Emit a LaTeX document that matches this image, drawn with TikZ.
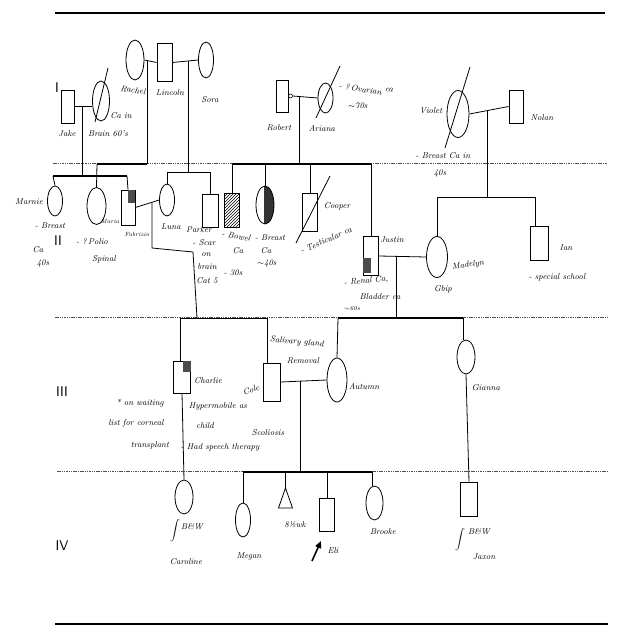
\documentclass[tikz,border=0pt]{standalone}
\usetikzlibrary{shapes.geometric,patterns,arrows.meta}
\begin{document}
\begin{tikzpicture}[x=1pt,y=-1pt,
  male/.style={draw,line width=0.8pt,rectangle,inner sep=0,minimum width=15pt,minimum height=34pt},
  female/.style={draw,line width=0.8pt,ellipse,inner sep=0,minimum width=17pt,minimum height=36pt},
  lbl/.style={font=\fontsize{8.5}{10}\selectfont\itshape,inner sep=0},
  tiny/.style={font=\fontsize{6}{7}\selectfont\itshape,inner sep=0},
  gennum/.style={font=\fontsize{14}{14}\selectfont\sffamily,inner sep=0},
  sepline/.style={line width=0.9pt,black!70,dash pattern=on 1.5pt off 0.8pt},
  edgerule/.style={line width=1.1pt},
  heavy/.style={line width=1.5pt},
  conn/.style={line width=0.8pt}
]
\useasboundingbox (0,0) rectangle (640,640);
\fill[white] (0,0) rectangle (640,640);

% ---------- generation rules ----------
\draw[edgerule] (55,13) -- (605,13);
\draw[sepline] (53,163) -- (607,163);
\draw[sepline] (55,317) -- (608,317);
\draw[sepline] (57,471) -- (608,471);
\draw[edgerule] (55,624) -- (608,624);

\node[gennum] (gI) at (57,88) {I};
\node[gennum] (gII) at (58,241) {II};
\node[gennum] (gIII) at (62,392) {III};
\node[gennum] (gIV) at (62,546) {IV};

% ---------- generation I ----------
\node[female,minimum width=18pt,minimum height=40pt] (rachel) at (135,60) {};
\node[male,minimum width=15pt,minimum height=38pt] (lincoln) at (164.5,62.5) {};
\node[female,minimum width=15pt,minimum height=36pt] (sora) at (206,60) {};
\node[male,minimum width=13pt,minimum height=33pt] (jake) at (67.5,106.5) {};
\node[female,minimum width=17pt,minimum height=40pt] (jw) at (101,101) {};
\node[male,minimum width=12pt,minimum height=32pt] (robert) at (282,96) {};
\node[circle,draw,line width=0.6pt,minimum size=4pt,inner sep=0] (rsc) at (290.5,96) {};
\node[female,minimum width=15pt,minimum height=30pt] (ariana) at (325.5,98) {};
\node[female,minimum width=22pt,minimum height=47pt] (violet) at (458,114) {};
\node[male,minimum width=14pt,minimum height=33pt] (nolan) at (516,106.5) {};

% deceased slashes
\draw[conn] ([shift={(-6,21)}]jw.center) -- ([shift={(7,-33)}]jw.center);
\draw[conn] ([shift={(-9.5,20)}]ariana.center) -- ([shift={(14.5,-32)}]ariana.center);
\draw[conn] ([shift={(-13,34)}]violet.center) -- ([shift={(12,-47)}]violet.center);

% ---------- generation II ----------
\node[female,minimum width=15pt,minimum height=30pt] (marnie) at (55,201) {};
\node[female,minimum width=19pt,minimum height=37pt] (maria) at (96.5,206) {};
\node[male,minimum width=14pt,minimum height=35pt] (fab) at (128,207.5) {};
\node[female,minimum width=15pt,minimum height=32pt] (luna) at (167,200) {};
\node[male,minimum width=16pt,minimum height=33pt] (parker) at (210,211) {};
\node[male,minimum width=15pt,minimum height=34pt,pattern=north east lines] (bowel) at (232,210) {};
\node[female,minimum width=18pt,minimum height=38pt,
  path picture={\fill[black!80] ([xshift=-1pt]path picture bounding box.north) rectangle (path picture bounding box.south east);}] (breast) at (265,205) {};
\node[male,minimum width=15pt,minimum height=38pt] (cooper) at (310,212) {};
\node[male,minimum width=15pt,minimum height=39pt] (justin) at (371,256) {};
\node[female,minimum width=21pt,minimum height=41pt] (madelyn) at (437,257) {};
\node[male,minimum width=18pt,minimum height=34pt] (ian) at (539,243) {};

\fill[black!70] (fab.north east) rectangle ([shift={(-7,13)}]fab.north east);
\fill[black!70] ([shift={(0,-3)}]justin.south west) rectangle ([shift={(8,-18)}]justin.south west);
\draw[conn] ([shift={(-14,31)}]cooper.center) -- ([shift={(20,-36)}]cooper.center);

% ---------- generation III ----------
\node[male,minimum width=17pt,minimum height=32pt] (charlie) at (182,377) {};
\fill[black!70] (charlie.north east) rectangle ([shift={(-8,11)}]charlie.north east);
\node[male,minimum width=17pt,minimum height=38pt] (cole) at (272,382) {};
\node[female,minimum width=20pt,minimum height=44pt] (autumn) at (337,380) {};
\node[female,minimum width=18pt,minimum height=34pt] (gianna) at (466,357) {};

% ---------- generation IV ----------
\node[female,minimum width=18pt,minimum height=34pt] (caroline) at (184,497) {};
\node[female,minimum width=15pt,minimum height=34pt] (megan) at (243,520) {};
\coordinate (tri) at (285.5,488);
\draw[conn] (tri) -- ++(-7,20) -- ++(14,0) -- cycle;
\node[male,minimum width=15pt,minimum height=33pt] (eli) at (327,515) {};
\node[female,minimum width=17pt,minimum height=34pt] (brooke) at (374.5,503) {};
\node[male,minimum width=17pt,minimum height=34pt] (jaxon) at (469,499) {};

% ---------- connectors: generation I ----------
\draw[conn] (rachel.east) -- (lincoln.west);
\coordinate (rlm) at (147,61);
\coordinate (rlb) at (147,164);
\coordinate (mk) at (97,164);
\draw[conn] (rlm) -- (rlb);
\draw[heavy] (mk) -- (rlb);
\draw[conn] (mk) -- (maria.north);

\draw[conn] (lincoln.east) -- (sora.west);
\coordinate (lsm) at (188,61.2);
\coordinate (lsb) at (188,172);
\coordinate (lpl) at (167,172);
\coordinate (lpr) at (210,172);
\draw[conn] (lsm) -- (lsb);
\draw[conn] (lpl) -- (lpr);
\draw[conn] (lpl) -- (luna.north);
\draw[conn] (lpr) -- (parker.north);

\draw[conn] (jake.east) -- (jake.east -| jw.west);
\coordinate (jm) at (82,106.5);
\coordinate (jmb) at (82,176);
\coordinate (sl) at (53,176);
\coordinate (sr) at (127,176);
\draw[conn] (jm) -- (jmb);
\draw[heavy] (sl) -- (sr);
\draw[conn] (sl) -- (marnie.north);
\draw[conn] (sr) -- (fab.north);

\draw[conn] (rsc.east) -- (ariana.west);
\coordinate (ram) at (299,96.5);
\coordinate (ramb) at (299,164);
\coordinate (bl) at (232,164);
\coordinate (bk) at (265,164);
\coordinate (ck) at (310,164);
\coordinate (br) at (371,164);
\draw[conn] (ram) -- (ramb);
\draw[heavy] (bl) -- (br);
\draw[conn] (bl) -- (bowel.north);
\draw[conn] (bk) -- (breast.north);
\draw[conn] (ck) -- (cooper.north);
\draw[conn] (br) -- (justin.north);

\draw[conn] (violet.east) -- (nolan.west);
\coordinate (vnm) at (487,110.5);
\coordinate (vnb) at (487,197);
\coordinate (vl) at (437,197);
\coordinate (vr) at (535,197);
\draw[conn] (vnm) -- (vnb);
\draw[conn] (vl) -- (vr);
\draw[conn] (vl) -- (madelyn.north);
\draw[conn] (vr) -- (vr |- ian.north);

% ---------- connectors: generation II ----------
\draw[conn] (fab.east) -- (luna.west);
\coordinate (flm) at (152,202.3);
\coordinate (fl1) at (152,248);
\coordinate (fl2) at (193,252);
\coordinate (fl3) at (197,318);
\draw[conn] (flm) -- (fl1) -- (fl2) -- (fl3);
\coordinate (s3l) at (180,318);
\coordinate (s3r) at (267,318);
\draw[conn] (s3l) -- (s3r);
\draw[conn] (s3l) -- (s3l |- charlie.north);
\draw[conn] (s3r) -- (s3r |- cole.north);

\draw[conn] (justin.east) -- (madelyn.west);
\coordinate (jum) at (396,256.5);
\coordinate (jub) at (396,318);
\coordinate (al) at (338,318);
\coordinate (gr) at (463,318);
\draw[conn] (jum) -- (jub);
\draw[heavy] (al) -- (gr);
\draw[conn] (al) -- (autumn.north);
\draw[conn] (gr) -- (gr |- gianna.north);

% ---------- connectors: generation III ----------
\draw[conn] (charlie.south) -- (caroline.north);
\draw[conn] (gianna.south) -- (jaxon.north);
\draw[conn] (cole.east) -- (autumn.west);
\coordinate (cam) at (300,381);
\coordinate (cab) at (300,472);
\coordinate (s4l) at (243,472);
\coordinate (trk) at (285.5,472);
\coordinate (elk) at (327,472);
\coordinate (s4r) at (372,472);
\draw[conn] (cam) -- (cab);
\draw[heavy] (s4l) -- (s4r);
\draw[conn] (s4l) -- (megan.north);
\draw[conn] (trk) -- (tri);
\draw[conn] (elk) -- (eli.north);
\draw[conn] (s4r) -- (s4r |- brooke.north);

% proband arrow
\coordinate (pa1) at (312,561);
\coordinate (pa2) at (321,541);
\draw[line width=1.6pt,-{Triangle[length=7pt,width=6pt]}] (pa1) -- (pa2);

% ---------- labels: generation I ----------
\node[lbl,rotate=-8] (tRachel) at (133,90) {Rachel};
\node[lbl] (tLincoln) at (170,93) {Lincoln};
\node[lbl] (tSora) at (210,100) {Sora};
\node[lbl] (tJake) at (67,134) {Jake};
\node[lbl] (tCain) at (121,116) {Ca in};
\node[lbl] (tBrain) at (108,134) {Brain 60's};
\node[lbl] (tRobert) at (279,128) {Robert};
\node[lbl] (tAriana) at (322,129) {Ariana};
\node[lbl,rotate=-8] (tOvar) at (366,89) {- ?\,Ovarian \raisebox{4pt}{ca}};
\node[lbl] (tOvar2) at (358,106) {$\sim$70s};
\node[lbl] (tViolet) at (431,111) {Violet};
\node[lbl] (tVbr) at (443,156) {- Breast Ca in};
\node[lbl] (tV40) at (440,173) {40s};
\node[lbl] (tNolan) at (542,118) {Nolan};

% ---------- labels: generation II ----------
\node[lbl] (tMarnie) at (29,202) {Marnie};
\node[lbl] (tMbr) at (50,226) {- Breast};
\node[lbl] (tMca) at (38,250) {Ca};
\node[lbl] (tM40) at (43,263) {40s};
\node[tiny] (tMaria) at (110,221) {Maria};
\node[lbl] (tPolio) at (92,241) {- ?\,Polio};
\node[lbl] (tSpinal) at (104,259) {Spinal};
\node[tiny] (tFab) at (137,234) {Fabrizio};
\node[lbl] (tLuna) at (171,227) {Luna};
\node[lbl] (tParker) at (199,230) {Parker};
\node[lbl] (tScar) at (204,243) {- Scar};
\node[lbl] (tOn) at (206,255) {on};
\node[lbl] (tBrainP) at (207,267) {brain};
\node[lbl] (tCat) at (207,281) {Cat 5};
\node[lbl,rotate=-10] (tBowel) at (236,236) {- Bowel};
\node[lbl] (tBca) at (238,251) {Ca};
\node[lbl] (tB30) at (233,273) {- 30s};
\node[lbl] (tBr) at (270,238) {- Breast};
\node[lbl] (tBrca) at (266,251) {Ca};
\node[lbl] (tBr40) at (267,263) {$\sim$40s};
\node[lbl] (tCooper) at (337,206) {Cooper};
\node[lbl,rotate=24] (tTest) at (326,240) {- Testicular ca};
\node[lbl] (tJustin) at (392,240) {Justin};
\node[lbl,rotate=5] (tRenal) at (366,281) {- Renal Ca,};
\node[lbl] (tBlad) at (380,297) {Bladder ca};
\node[tiny] (tJ60) at (352,309) {$\sim$60s};
\node[lbl,rotate=8] (tMadelyn) at (468,265) {Madelyn};
\node[lbl] (tGbip) at (443,289) {Gbip};
\node[lbl] (tIan) at (566,248) {Ian};
\node[lbl] (tSchool) at (557,277) {- special school};

% ---------- labels: generation III ----------
\node[lbl] (tCharlie) at (208,381) {Charlie};
\node[lbl] (tHyp) at (218,406) {Hypermobile as};
\node[lbl] (tChild) at (205,426) {child};
\node[lbl] (tSpeech) at (220,447) {- Had speech therapy};
\node[lbl] (tWait) at (140,403) {* on waiting};
\node[lbl] (tList) at (136,423) {list for corneal};
\node[lbl] (tTrans) at (150,445) {transplant};
\node[lbl,rotate=20] (tCole) at (251,390) {Cole};
\node[lbl,rotate=-5] (tSal) at (297,342) {Salivary gland};
\node[lbl] (tRem) at (303,361) {Removal};
\node[lbl] (tScol) at (268,433) {Scoliosis};
\node[lbl] (tAutumn) at (364,386) {Autumn};
\node[lbl] (tGianna) at (486,388) {Gianna};

% ---------- labels: generation IV ----------
\node[lbl] (bC) at (175,531) {$\displaystyle\int$};
\node[lbl] (tBWc) at (192,527) {B\&W};
\node[lbl] (tCaroline) at (186,562) {Caroline};
\node[lbl] (tMegan) at (249,556) {Megan};
\node[lbl] (tWk) at (295,525) {8\textonehalf wk};
\node[lbl] (tEli) at (333,551) {Eli};
\node[lbl] (tBrooke) at (383,532) {Brooke};
\node[lbl] (bJ) at (460,540) {$\displaystyle\int$};
\node[lbl] (tBWj) at (479,532) {B\&W};
\node[lbl] (tJaxon) at (484,557) {Jaxon};
\end{tikzpicture}
\end{document}
